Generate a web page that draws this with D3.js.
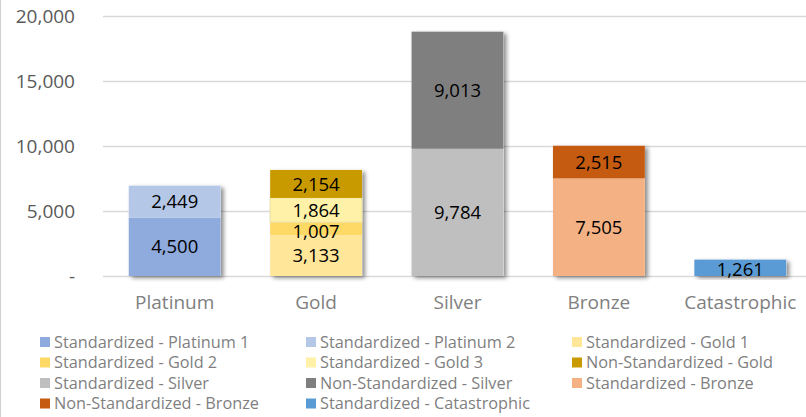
<!DOCTYPE html>
<html>
<head>
<meta charset="utf-8">
<script src="https://cdn.jsdelivr.net/npm/d3@7"></script>
<style>
  body { margin: 0; background: #fff; }
  svg { display: block; font-family: "Open Sans", Lato, sans-serif; }
</style>
</head>
<body>
<script>
// chart data
var categories = ["Platinum", "Gold", "Silver", "Bronze", "Catastrophic"];
var seriesNames = [
  "Standardized - Platinum 1", "Standardized - Platinum 2",
  "Standardized - Gold 1", "Standardized - Gold 2", "Standardized - Gold 3",
  "Non-Standardized - Gold", "Standardized - Silver", "Non-Standardized - Silver",
  "Standardized - Bronze", "Non-Standardized - Bronze", "Standardized - Catastrophic"
];
// which category each series sits in
var seriesCategory = ["Platinum", "Platinum", "Gold", "Gold", "Gold", "Gold",
  "Silver", "Silver", "Bronze", "Bronze", "Catastrophic"];
var seriesValues = [4500, 2449, 3133, 1007, 1864, 2154, 9784, 9013, 7505, 2515, 1261];
var seriesColors = ["#8faadc", "#b4c7e7", "#ffe699", "#ffd966", "#fff2a8", "#c99a00",
  "#bfbfbf", "#7f7f7f", "#f4b183", "#c55a11", "#5b9bd5"];
var yTicks = [0, 5000, 10000, 15000, 20000];

var svgWidth = 806;
var svgHeight = 417;

var svg = d3.select("body")
  .append("svg")
  .attr("width", svgWidth)
  .attr("height", svgHeight);

// shadow under bars
var defs = svg.append("defs");
var shadow = defs.append("filter")
  .attr("id", "shadow")
  .attr("x", "-10%").attr("y", "-10%")
  .attr("width", "130%").attr("height", "130%");
shadow.append("feDropShadow")
  .attr("dx", 3).attr("dy", 2)
  .attr("stdDeviation", 2.2)
  .attr("flood-color", "#000")
  .attr("flood-opacity", 0.45);

// left border of the chart frame
svg.append("line")
  .attr("x1", 0.5).attr("x2", 0.5)
  .attr("y1", 0).attr("y2", svgHeight)
  .attr("stroke", "#d0d0d0");

var xScale = d3.scaleBand()
  .domain(categories)
  .range([104, 811])
  .paddingInner(0.35)
  .paddingOuter(0.175);

var yScale = d3.scaleLinear()
  .domain([0, 20000])
  .range([276, 16]);

// gridlines
svg.append("g")
  .selectAll("line")
  .data(yTicks)
  .enter()
  .append("line")
  .attr("x1", 103)
  .attr("x2", svgWidth)
  .attr("y1", d => Math.round(yScale(d)) + 0.5)
  .attr("y2", d => Math.round(yScale(d)) + 0.5)
  .attr("stroke", "#d9d9d9")
  .attr("stroke-width", 1.5);

// y axis labels
var leftAxis = d3.axisLeft(yScale)
  .tickValues(yTicks)
  .tickSize(0)
  .tickPadding(0)
  .tickFormat(d => d === 0 ? "-" : d3.format(",")(d));

var yAxis = svg.append("g")
  .attr("transform", "translate(75, 0)")
  .call(leftAxis)
  .attr("font-family", null)
  .attr("font-size", null);
yAxis.select(".domain").remove();
yAxis.selectAll("text")
  .attr("fill", "#595959")
  .style("font-size", "19px");

// stack segments inside each category
var segments = [];
var base = {};
seriesValues.forEach(function(v, i) {
  var cat = seriesCategory[i];
  var y0 = base[cat] || 0;
  segments.push({ name: seriesNames[i], cat: cat, y0: y0, y1: y0 + v, value: v, color: seriesColors[i] });
  base[cat] = y0 + v;
});

// bar shadows drawn once per whole stack
svg.append("g")
  .selectAll("rect")
  .data(categories)
  .enter()
  .append("rect")
  .attr("x", d => xScale(d))
  .attr("y", d => yScale(base[d]))
  .attr("width", xScale.bandwidth())
  .attr("height", d => yScale(0) - yScale(base[d]))
  .attr("fill", "#fff")
  .attr("filter", "url(#shadow)");

var bars = svg.append("g");
bars.selectAll("rect")
  .data(segments)
  .enter()
  .append("rect")
  .attr("x", d => xScale(d.cat))
  .attr("y", d => yScale(d.y1))
  .attr("width", xScale.bandwidth())
  .attr("height", d => yScale(d.y0) - yScale(d.y1))
  .attr("fill", d => d.color);

// light edge on Gold 3
bars.selectAll("rect")
  .filter(d => d.name === "Standardized - Gold 3")
  .attr("stroke", "#e8dfa6")
  .attr("stroke-width", 1);

// value labels
svg.append("g")
  .selectAll("text")
  .data(segments)
  .enter()
  .append("text")
  .attr("x", d => xScale(d.cat) + xScale.bandwidth() / 2)
  .attr("y", d => d.value < 1500 ? yScale(d.y1) + 1 : yScale((d.y0 + d.y1) / 2))
  .attr("dy", d => d.value < 1500 ? "0.82em" : "0.36em")
  .attr("text-anchor", "middle")
  .attr("fill", "#000")
  .style("font-size", "18.5px")
  .text(d => d3.format(",")(d.value));

// category labels
var bottomAxis = d3.axisBottom(xScale).tickSize(0).tickPadding(0);
var xAxis = svg.append("g")
  .attr("transform", "translate(0, 295)")
  .call(bottomAxis)
  .attr("font-family", null)
  .attr("font-size", null);
xAxis.select(".domain").remove();
xAxis.selectAll("text")
  .attr("fill", "#808080")
  .style("font-size", "19px");

// legend
var legendCols = [40, 306, 572];
var legend = svg.append("g")
  .selectAll("g")
  .data(seriesNames)
  .enter()
  .append("g")
  .attr("transform", (d, i) => `translate(${legendCols[i % 3]}, ${342 + Math.floor(i / 3) * 20.5})`);

legend.append("rect")
  .attr("x", 0)
  .attr("y", -5)
  .attr("width", 10)
  .attr("height", 10)
  .attr("fill", (d, i) => seriesColors[i]);

legend.append("text")
  .attr("x", 14)
  .attr("y", 0)
  .attr("dy", "0.35em")
  .attr("fill", "#7f7f7f")
  .style("font-size", "16.3px")
  .text(d => d);
</script>
</body>
</html>
